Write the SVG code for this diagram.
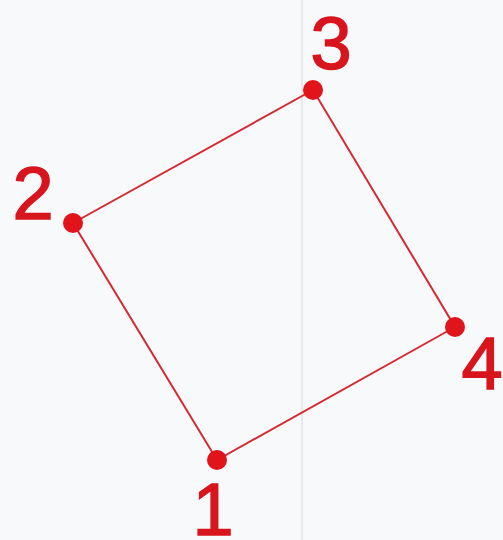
<svg xmlns="http://www.w3.org/2000/svg" width="503" height="540" viewBox="0 0 503 540">
<style>
.lbl{font-family:"Liberation Sans",Arial,sans-serif;font-size:74px;fill:#d8141c;stroke:#d8141c;stroke-width:1.5;text-anchor:middle}
.pt{fill:#e0141a}
.edge{stroke:#d42a30;stroke-width:2;fill:none}
</style>
<rect width="503" height="540" fill="#f8f9fb"/>
<line x1="302" y1="0" x2="302" y2="540" stroke="#e2e4e8" stroke-width="1.5"/>
<g id="connectors">
<polygon class="edge" points="217,460 73,223 313,90 455,327"/>
</g>
<g id="n1"><circle class="pt" cx="217" cy="460" r="10"/><text class="lbl" x="213" y="535">1</text></g>
<g id="n2"><circle class="pt" cx="73" cy="223" r="10"/><text class="lbl" x="33" y="219">2</text></g>
<g id="n3"><circle class="pt" cx="313" cy="90" r="10"/><text class="lbl" x="331" y="69">3</text></g>
<g id="n4"><circle class="pt" cx="455" cy="327" r="10"/><text class="lbl" x="482" y="389">4</text></g>
</svg>
